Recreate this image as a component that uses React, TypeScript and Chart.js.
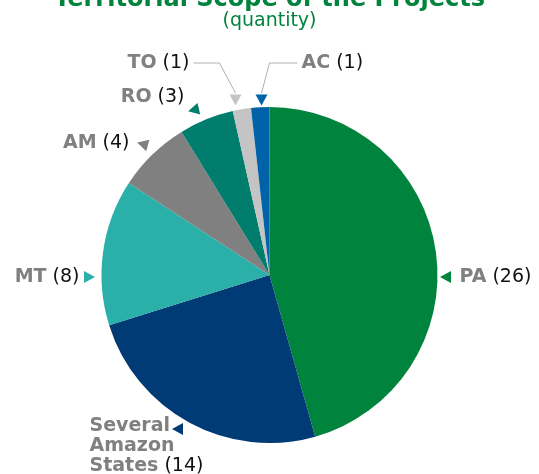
import React, { useEffect, useRef } from "react";
import { Chart, registerables } from "chart.js";

Chart.register(...registerables);

const categories = ["PA", "Several Amazon States", "MT", "AM", "RO", "TO", "AC"];
const values = [26, 14, 8, 4, 3, 1, 1];
const colors = ["#00843D", "#003B75", "#2AB0A8", "#808080", "#007D6D", "#C4C4C4", "#0062A8"];
const titleText = "Territorial Scope of the Projects";
const subtitleText = "(quantity)";

// label layout: offsets from pie centre (px), triangle direction in degrees
const labelLines = [["PA"], ["Several", "Amazon", "States"], ["MT"], ["AM"], ["RO"], ["TO"], ["AC"]];
const labelLayout = [
  { tx: 190, ty: 2, align: "left", mx: 176, my: 2, dir: 180 },
  { tx: -180, ty: 151, align: "left", mx: -92, my: 154, dir: 180, lh: 20 },
  { tx: -190, ty: 2, align: "right", mx: -180, my: 2, dir: 0 },
  { tx: -140, ty: -132, align: "right", mx: -127, my: -131, dir: 195 },
  { tx: -85, ty: -178, align: "right", mx: -76, my: -165, dir: 167 },
  { tx: -80, ty: -212, align: "right", mx: -34, my: -175, dir: 90, leader: [[-76, -212], [-50, -212], [-34, -182]] },
  { tx: 32, ty: -212, align: "left", mx: -8, my: -175, dir: 90, leader: [[28, -212], [0, -212], [-8, -182]] },
];

const FONT = "'DejaVu Sans', Verdana, sans-serif";

function drawTri(ctx: CanvasRenderingContext2D, x: number, y: number, dirDeg: number, color: string) {
  const a = (dirDeg * Math.PI) / 180;
  const len = 11, half = 6;
  const cos = Math.cos(a), sin = Math.sin(a);
  const tipX = x + cos * len / 2, tipY = y + sin * len / 2;
  const bx = x - cos * len / 2, by = y - sin * len / 2;
  ctx.beginPath();
  ctx.moveTo(tipX, tipY);
  ctx.lineTo(bx - sin * half, by + cos * half);
  ctx.lineTo(bx + sin * half, by - cos * half);
  ctx.closePath();
  ctx.fillStyle = color;
  ctx.fill();
}

const labelPlugin = {
  id: "customLabels",
  afterDraw(chart: any) {
    const ctx: CanvasRenderingContext2D = chart.ctx;
    const meta = chart.getDatasetMeta(0);
    const arc = meta.data[0];
    const cx = arc.x, cy = arc.y;
    ctx.save();
    // title
    ctx.textAlign = "center";
    ctx.textBaseline = "alphabetic";
    ctx.fillStyle = "#00843D";
    ctx.font = `bold 24px ${FONT}`;
    ctx.fillText(titleText, chart.width / 2, 6);
    ctx.font = `19px ${FONT}`;
    ctx.fillText(subtitleText, chart.width / 2, 26);

    ctx.textBaseline = "middle";
    values.forEach((v, i) => {
      const L: any = labelLayout[i];
      const lines = labelLines[i];
      const count = ` (${v})`;
      if (L.leader) {
        ctx.beginPath();
        ctx.strokeStyle = "#AFAFAF";
        ctx.lineWidth = 1;
        L.leader.forEach((p: number[], k: number) => {
          const px = cx + p[0], py = cy + p[1];
          if (k === 0) ctx.moveTo(px, py); else ctx.lineTo(px, py);
        });
        ctx.stroke();
      }
      drawTri(ctx, cx + L.mx, cy + L.my, L.dir, colors[i]);
      const lh = L.lh || 20;
      lines.forEach((ln: string, k: number) => {
        const isLast = k === lines.length - 1;
        ctx.font = `bold 19px ${FONT}`;
        const w1 = ctx.measureText(ln).width;
        ctx.font = `19px ${FONT}`;
        const w2 = isLast ? ctx.measureText(count).width : 0;
        const total = w1 + w2;
        let x = cx + L.tx;
        if (L.align === "right") x -= total;
        const y = cy + L.ty + k * lh;
        ctx.textAlign = "left";
        ctx.font = `bold 19px ${FONT}`;
        ctx.fillStyle = "#808080";
        ctx.fillText(ln, x, y);
        if (isLast) {
          ctx.font = `19px ${FONT}`;
          ctx.fillStyle = "#111111";
          ctx.fillText(count, x + w1, y);
        }
      });
    });
    ctx.restore();
  },
};

export default function App() {
  const ref = useRef<HTMLCanvasElement>(null);
  useEffect(() => {
    if (!ref.current) return;
    const chart = new Chart(ref.current, {
      type: "pie",
      data: {
        labels: categories,
        datasets: [
          {
            data: values,
            backgroundColor: colors,
            borderWidth: 0,
          },
        ],
      },
      options: {
        responsive: false,
        animation: false,
        devicePixelRatio: 1,
        layout: { padding: { left: 101, right: 101, top: 107, bottom: 31 } },
        plugins: {
          legend: { display: false },
          tooltip: { enabled: false },
          title: { display: false },
        },
      },
      plugins: [labelPlugin],
    });
    return () => chart.destroy();
  }, []);
  return (
    <div style={{ position: "absolute", left: 0, top: 0, width: 539, height: 474, background: "#fff" }}>
      <canvas ref={ref} width={539} height={474} style={{ display: "block" }} />
    </div>
  );
}
